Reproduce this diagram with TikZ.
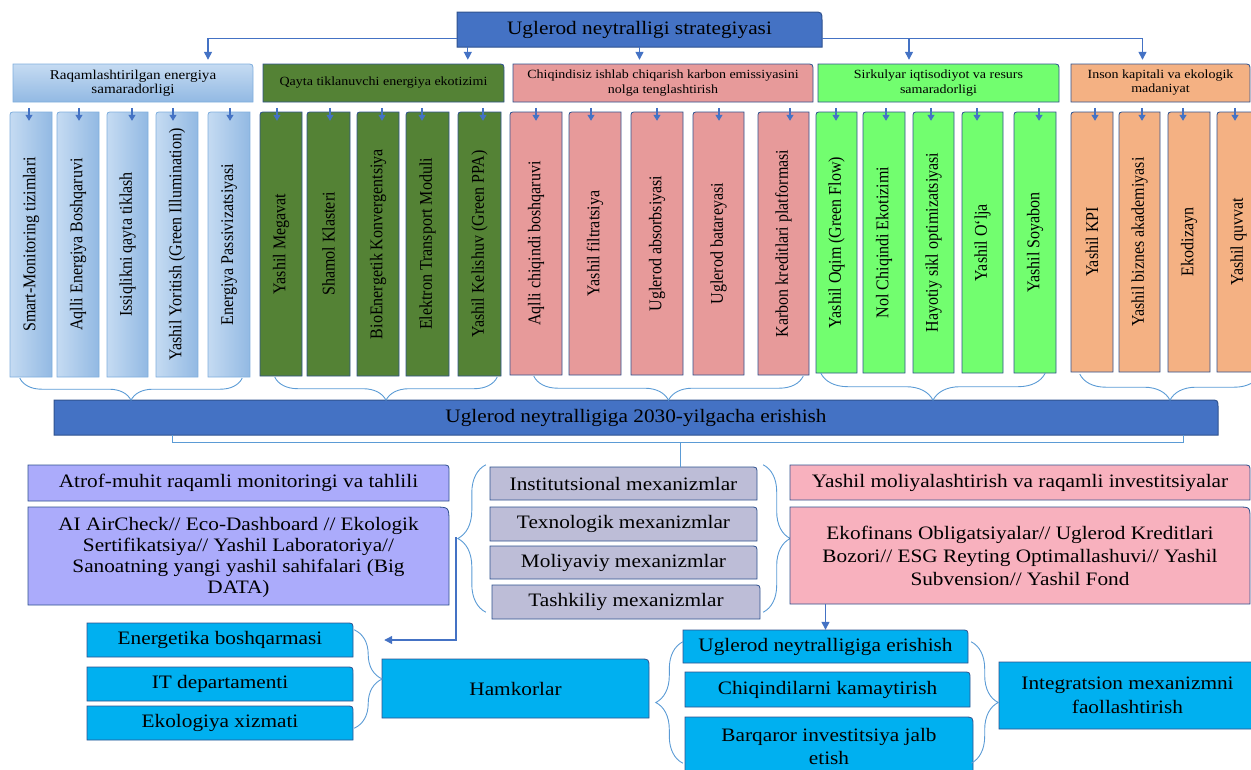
\documentclass[tikz,border=0pt]{standalone}
\usepackage{fontspec}
\setmainfont{Liberation Serif}[FakeStretch=1.12]
\newfontfamily\vfont{Liberation Serif}
\usepackage{graphicx}
\usetikzlibrary{arrows.meta,decorations.pathreplacing}
\definecolor{cblue}{HTML}{4472C4}
\definecolor{cborder}{HTML}{2F528F}
\definecolor{lblueA}{HTML}{C5DBF2}
\definecolor{lblueB}{HTML}{92B9E3}
\definecolor{lbord}{HTML}{7FAEDD}
\definecolor{dgreen}{HTML}{548235}
\definecolor{pinkr}{HTML}{E79A9A}
\definecolor{bgreen}{HTML}{72FE6F}
\definecolor{orng}{HTML}{F4B183}
\definecolor{lav}{HTML}{ABABFB}
\definecolor{mechc}{HTML}{BDBDD7}
\definecolor{lpink}{HTML}{F8B1BE}
\definecolor{cyanb}{HTML}{00B0F0}
\definecolor{brcol}{HTML}{5B9BD5}
\newcommand{\fsz}[2]{\fontsize{#1}{#2}\selectfont}
% name, x1, y1, x2, y2, path style, text, corner radius, font
\newcommand{\hbx}[9]{%
  \path[#6] (#2,#5) -- (#2,#3) -- ({#4-#8},#3) .. controls (#4,#3) .. (#4,{#3+#8}) -- (#4,#5) -- cycle;
  \node[box, font=#9, minimum width={(#4-#2)*1pt}, minimum height={(#5-#3)*1pt}] (#1) at ({(#2+#4)/2},{(#3+#5)/2}) {#7};}
% name, x1, x2, y2, path style, text, arrow x
\newcommand{\vcl}[7]{%
  \path[#5] (#2,#4) -- (#2,118) .. controls (#2,112) .. ({#2+6},112) -- (#3,112) -- (#3,#4) -- cycle;
  \node[box, minimum width={(#3-#2)*1pt}, minimum height={(#4-112)*1pt}] (#1) at ({(#2+#3)/2},{(112+#4)/2}) {\rotatebox{90}{\scalebox{1}[1.12]{\vfont\fsz{16}{19}#6}}};
  \draw[sarrow] ([xshift={(#7-(#2+#3)/2)*1pt},yshift=4pt]#1.north) -- ([xshift={(#7-(#2+#3)/2)*1pt},yshift=-9pt]#1.north);}
\begin{document}
\begin{tikzpicture}[x=1pt,y=-1pt,
  box/.style={inner sep=0pt, align=center, text=black},
  conn/.style={draw=cblue, line width=1.3pt, -{Triangle[length=8pt,width=8pt]}},
  sarrow/.style={draw=cblue, line width=1.2pt, -{Triangle[length=6pt,width=7pt]}},
  brc/.style={draw=brcol, line width=0.9pt, decorate, decoration={brace,amplitude=#1}},
  thinline/.style={draw=brcol, line width=0.9pt},
  bdr/.style={draw=cborder, line width=0.8pt},
  ga/.style={left color=lblueA, right color=lblueB, draw=lbord, line width=0.8pt},
  gb/.style={fill=dgreen, bdr},
  gc/.style={fill=pinkr, bdr},
  gd/.style={fill=bgreen, bdr},
  ge/.style={fill=orng, bdr},
  purp/.style={fill=lav, bdr},
  mechs/.style={fill=mechc, bdr},
  pinks/.style={fill=lpink, bdr},
  cyans/.style={fill=cyanb, bdr}]
\useasboundingbox (0,0) rectangle (1251,769);
\clip (0,0) rectangle (1251,769);
% title and group headers
\hbx{title}{457}{12}{822}{47}{fill=cblue,draw=cborder,line width=1pt}{Uglerod neytralligi strategiyasi}{9}{\fsz{19}{22}}
\hbx{h1}{13}{64}{253}{102}{top color=lblueA,bottom color=lblueB,draw=lbord,line width=0.8pt}{Raqamlashtirilgan energiya\\samaradorligi}{7}{\fsz{13.5}{14}}
\hbx{h2}{263}{64}{504}{102}{gb}{Qayta tiklanuvchi energiya ekotizimi}{7}{\fsz{12.5}{14}}
\hbx{h3}{513}{64}{813}{102}{gc}{Chiqindisiz ishlab chiqarish karbon emissiyasini\\nolga tenglashtirish}{7}{\fsz{12.5}{14.5}}
\hbx{h4}{818}{64}{1059}{102}{gd}{Sirkulyar iqtisodiyot va resurs\\samaradorligi}{7}{\fsz{12.5}{14.5}}
\hbx{h5}{1071}{64}{1250}{102}{ge}{Inson kapitali va ekologik\\madaniyat}{7}{\fsz{12.5}{14}}
\coordinate (t2) at ([yshift=4pt]h2.north);
\coordinate (t3) at ([yshift=4pt]h3.north);
\coordinate (t4) at ([yshift=4pt]h4.north);
\coordinate (t5) at ([yshift=4pt]h5.north);
\draw[conn] ([yshift=-9pt]title.west) -| ([xshift=75pt,yshift=4pt]h1.north);
\draw[conn] ([xshift=11pt]title.south west) -- ([xshift=11pt]title.south west |- t2);
\draw[conn] (title.south) -- (title.south |- t3);
\draw[conn] ([yshift=-9pt]title.east) -| ([xshift=-18pt]t5);
\draw[conn] ([yshift=-9pt]title.east) -| ([xshift=-29.5pt]t4);
% group 1
\vcl{b11}{10}{52}{377}{ga}{Smart-Monitoring tizimlari}{29}
\vcl{b12}{57}{99}{377}{ga}{Aqlli Energiya Boshqaruvi}{79}
\vcl{b13}{107}{148}{377}{ga}{Issiqlikni qayta tiklash}{132}
\vcl{b14}{156}{198}{377}{ga}{Yashil Yoritish (Green Illumination)}{173}
\vcl{b15}{208}{250}{377}{ga}{Energiya Passivizatsiyasi}{230}
% group 2
\vcl{b21}{260}{302}{376}{gb}{Yashil Megavat}{277}
\vcl{b22}{307}{350}{376}{gb}{Shamol Klasteri}{330}
\vcl{b23}{357}{399}{376}{gb}{BioEnergetik Konvergentsiya}{382}
\vcl{b24}{406}{449}{376}{gb}{Elektron Transport Moduli}{422}
\vcl{b25}{458}{501}{376}{gb}{Yashil Kelishuv (Green PPA)}{483}
% group 3
\vcl{b31}{510}{562}{375}{gc}{Aqlli chiqindi boshqaruvi}{536}
\vcl{b32}{569}{621}{375}{gc}{Yashil filtratsiya}{591}
\vcl{b33}{631}{683}{375}{gc}{Uglerod absorbsiyasi}{657}
\vcl{b34}{693}{744}{375}{gc}{Uglerod batareyasi}{719}
\vcl{b35}{758}{809}{375}{gc}{Karbon kreditlari platformasi}{790}
% group 4
\vcl{b41}{816}{857}{373}{gd}{Yashil Oqim (Green Flow)}{836}
\vcl{b42}{863}{905}{373}{gd}{Nol Chiqindi Ekotizimi}{886}
\vcl{b43}{913}{954}{373}{gd}{Hayotiy sikl optimizatsiyasi}{931}
\vcl{b44}{962}{1003}{373}{gd}{Yashil O‘lja}{977}
\vcl{b45}{1014}{1056}{373}{gd}{Yashil Soyabon}{1039}
% group 5
\vcl{b51}{1071}{1113}{372}{ge}{Yashil KPI}{1095}
\vcl{b52}{1119}{1160}{372}{ge}{Yashil biznes akademiyasi}{1142}
\vcl{b53}{1168}{1210}{372}{ge}{Ekodizayn}{1183}
\vcl{b54}{1217}{1260}{372}{ge}{Yashil quvvat}{1235}
% bar
\hbx{bar}{54}{400}{1218}{435}{fill=cblue,draw=cborder,line width=1pt}{Uglerod neytralligiga 2030-yilgacha erishish}{8}{\fsz{19}{22}}
% braces under groups
\draw[brc=22pt] ([xshift=-8pt,yshift=-1pt]b15.south east) -- ([xshift=10pt,yshift=-1pt]b11.south west);
\draw[brc=23pt] ([xshift=-4pt,yshift=-1pt]b25.south east) -- ([xshift=15pt,yshift=-1pt]b21.south west);
\draw[brc=24pt] ([xshift=-6pt,yshift=-1pt]b35.south east) -- ([xshift=24pt,yshift=-1pt]b31.south west);
\draw[brc=27pt] ([xshift=-11pt]b45.south east) -- ([xshift=5pt]b41.south west);
\draw[brc=26pt] ([yshift=-2pt]b54.south east) -- ([xshift=9pt,yshift=-2pt]b51.south west);
% bracket under bar
\draw[thinline] ([xshift=119pt]bar.south west) -- ++(0,7) -| ([xshift=-35pt]bar.south east);
% purple boxes
\hbx{atrof}{28}{465}{449}{501}{purp}{Atrof-muhit raqamli monitoringi va tahlili}{7}{\fsz{19}{22}}
\path[purp] (28,605) -- (28,507) -- (434,507) .. controls (449,507) .. (449,522) -- (449,605) -- cycle;
\begin{scope}
\clip (28,507) rectangle (449,598);
\node[box, font=\fsz{19}{21}, minimum width=421pt, minimum height=98pt] (aibox) at (238.5,557) {AI AirCheck// Eco-Dashboard // Ekologik\\Sertifikatsiya// Yashil Laboratoriya//\\Sanoatning yangi yashil sahifalari (Big\\DATA)};
\end{scope}
% mechanisms
\hbx{mech1}{490}{467}{757}{500}{mechs}{Institutsional mexanizmlar}{7}{\fsz{19}{22}}
\hbx{mech2}{490}{507}{757}{541}{mechs}{Texnologik mexanizmlar}{7}{\fsz{19}{22}}
\hbx{mech3}{490}{546}{757}{579}{mechs}{Moliyaviy mexanizmlar}{7}{\fsz{19}{22}}
\hbx{mech4}{492}{585}{760}{619}{mechs}{Tashkiliy mexanizmlar}{7}{\fsz{19}{22}}
\coordinate (bk) at (680,442);
\draw[thinline] (bk) -- (bk |- mech1.north);
\draw[brc=28pt] ([xshift=-6pt,yshift=7pt]mech4.south west) -- ([xshift=-4pt,yshift=2pt]mech1.north west);
\draw[brc=27pt] ([xshift=6pt,yshift=2pt]mech1.north east) -- ([xshift=3pt,yshift=7pt]mech4.south east);
% pink boxes
\hbx{ymol}{790}{465}{1250}{500}{pinks}{Yashil moliyalashtirish va raqamli investitsiyalar}{7}{\fsz{19}{22}}
\hbx{ekofin}{790}{507}{1250}{604}{pinks}{Ekofinans Obligatsiyalar// Uglerod Kreditlari\\Bozori// ESG Reyting Optimallashuvi// Yashil\\Subvension// Yashil Fond}{12}{\fsz{19}{23}}
% bottom cyan boxes
\hbx{energ}{87}{623}{353}{657}{cyans}{Energetika boshqarmasi}{7}{\fsz{19}{22}}
\hbx{itdep}{87}{667}{353}{701}{cyans}{IT departamenti}{7}{\fsz{19}{22}}
\hbx{ekol}{87}{706}{353}{740}{cyans}{Ekologiya xizmati}{7}{\fsz{19}{22}}
\hbx{hamk}{382}{659}{649}{718}{cyans}{Hamkorlar}{9}{\fsz{19}{22}}
\hbx{ue}{683}{630}{968}{663}{cyans}{Uglerod neytralligiga erishish}{7}{\fsz{19}{22}}
\hbx{chiq}{685}{672}{970}{707}{cyans}{Chiqindilarni kamaytirish}{7}{\fsz{19}{22}}
\hbx{barq}{685}{717}{973}{775}{cyans}{Barqaror investitsiya jalb\\etish}{9}{\fsz{19}{23}}
\hbx{integ}{999}{662}{1256}{729}{cyans}{Integratsion mexanizmni\\faollashtirish}{7}{\fsz{19}{24}}
% connectors lower
\coordinate (mtip) at (456,537);
\draw[conn] (mtip) |- ([xshift=31pt]energ.east);
\draw[conn] (ekofin.south -| ue.north) -- (ue.north);
\draw[brc=28pt] ([xshift=1pt,yshift=-7pt]energ.north east) -- ([xshift=1pt,yshift=12pt]ekol.south east);
\draw[brc=27pt] ([xshift=-2pt,yshift=12pt]barq.south west) -- ([yshift=-12pt]ue.north west);
\draw[brc=27pt] ([xshift=3pt,yshift=-12pt]ue.north east) -- ([xshift=-2pt,yshift=12pt]barq.south east);
\end{tikzpicture}
\end{document}
